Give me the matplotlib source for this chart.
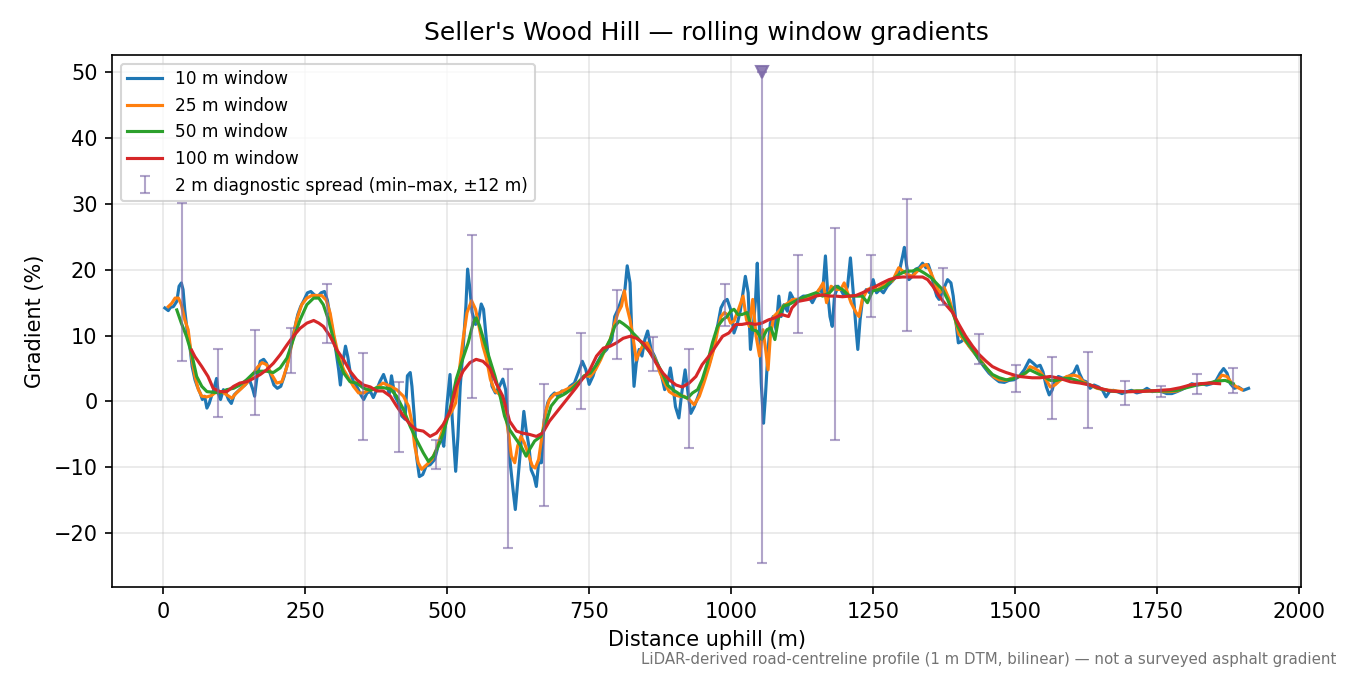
import numpy as np
import matplotlib
matplotlib.use('Agg')
import matplotlib.pyplot as plt

# ---- data (distance m, gradient %) ----
pts_10 = [(3, 14.2), (9, 13.8), (13, 14.3), (18, 14.4), (24, 15.2), (28, 17.5), (32, 18.0), (35, 17.0),
          (38, 13.9), (42, 10.9), (47, 8.4), (51, 5.3), (56, 3.3), (60, 2.3), (65, 1.3), (69, 0.3),
          (73, 0.8), (77, -1.0), (81, -0.3), (85, 0.8), (89, 1.8), (94, 3.5), (97, 1.3), (101, 0.3),
          (106, 1.8), (111, 1.2), (115, 0.3), (120, -0.3), (125, 1.0), (131, 1.5), (137, 2.0), (144, 2.5),
          (152, 3.3), (158, 1.8), (161, 0.8), (166, 4.3), (171, 6.1), (177, 6.4), (182, 5.8), (189, 4.1),
          (195, 2.5), (201, 2.0), (207, 2.3), (213, 3.8), (219, 5.8), (225, 8.4), (231, 10.9), (237, 13.2),
          (242, 14.4), (248, 15.4), (254, 16.5), (260, 16.7), (266, 16.2), (272, 15.9), (278, 16.5),
          (284, 16.7), (289, 15.4), (294, 12.9), (299, 10.4), (304, 7.8), (309, 4.8), (312, 2.5), (316, 5.8),
          (321, 8.4), (325, 6.8), (329, 4.6), (335, 3.0), (341, 2.3), (348, 1.0), (353, 0.3), (359, 1.3),
          (365, 1.5), (370, 0.6), (376, 1.8), (382, 3.1), (388, 4.1), (394, 2.6), (398, 1.1), (402, 3.9),
          (408, 0.8), (414, -0.2), (420, -2.2), (426, -2.7), (430, 3.9), (435, 4.4), (438, 2.3), (442, -2.2),
          (446, -8.3), (451, -11.4), (457, -11.1), (463, -9.8), (470, -9.6), (478, -8.8), (484, -6.8),
          (490, -5.5), (494, -6.8), (500, -0.2), (505, 4.1), (509, -2.7), (515, -10.6), (519, -5.3),
          (523, 2.3), (528, 7.9), (533, 14.5), (536, 20.1), (540, 17.1), (544, 13.5), (550, 11.7),
          (555, 12.2), (560, 14.8), (564, 14.0), (569, 9.4), (574, 5.9), (579, 2.3), (585, 1.3), (592, 2.3),
          (598, 3.4), (603, 1.8), (607, -3.2), (611, -9.3), (616, -13.4), (620, -16.4), (624, -12.4),
          (630, -6.3), (635, -1.5), (639, -4.3), (644, -6.8), (648, -10.4), (653, -11.4), (657, -12.9),
          (661, -9.3), (666, -9.3), (671, -2.7), (677, -0.2), (683, 0.8), (689, 1.3), (695, 0.8), (702, 1.6),
          (709, 1.3), (716, 2.3), (724, 2.8), (731, 4.4), (738, 6.1), (744, 4.9), (750, 2.6), (757, 3.9),
          (763, 5.7), (772, 7.1), (781, 7.9), (790, 9.4), (795, 12.9), (801, 14.0), (807, 15.5), (813, 17.0),
          (817, 20.6), (822, 18.0), (826, 7.9), (829, 2.3), (833, 5.8), (838, 7.9), (843, 6.9), (848, 9.4),
          (853, 10.7), (859, 7.9), (865, 6.9), (871, 5.6), (877, 4.1), (883, 1.8), (888, 2.8), (893, 5.1),
          (897, 2.8), (902, -0.8), (908, -2.5), (913, 1.3), (919, 4.8), (924, 1.3), (929, -1.8), (935, -0.8),
          (944, 1.3), (952, 3.6), (961, 5.6), (970, 8.4), (976, 11.4), (982, 14.2), (988, 15.2), (993, 15.5),
          (999, 14.0), (1005, 10.4), (1011, 11.9), (1016, 13.7), (1020, 16.0), (1025, 19.0), (1030, 16.5),
          (1034, 7.9), (1039, 11.4), (1043, 15.5), (1046, 21.0), (1050, 10.4), (1053, 2.8), (1057, -3.3),
          (1060, 0.3), (1065, 7.9), (1069, 11.9), (1074, 12.9), (1079, 10.9), (1084, 16.0), (1088, 12.9),
          (1093, 14.7), (1099, 13.7), (1104, 16.5), (1110, 15.5), (1118, 15.5), (1127, 16.0), (1136, 16.0),
          (1143, 15.0), (1149, 16.0), (1155, 17.0), (1161, 16.5), (1166, 22.1), (1170, 16.5), (1174, 12.9),
          (1178, 11.4), (1182, 16.0), (1188, 17.5), (1193, 17.0), (1199, 16.0), (1205, 17.5), (1210, 21.8),
          (1215, 16.5), (1220, 10.9), (1223, 7.9), (1227, 12.4), (1232, 16.0), (1238, 17.0), (1244, 16.5),
          (1250, 18.5), (1256, 16.5), (1262, 17.0), (1268, 16.5), (1275, 17.5), (1284, 18.3), (1291, 19.0),
          (1297, 20.1), (1302, 22.1), (1305, 23.4), (1309, 20.6), (1313, 18.5), (1319, 19.0), (1325, 20.1),
          (1331, 20.3), (1337, 21.0), (1343, 20.3), (1347, 20.8), (1352, 19.5), (1357, 17.5), (1362, 16.0),
          (1366, 15.5), (1371, 16.5), (1376, 17.5), (1381, 18.5), (1387, 18.0), (1391, 16.0), (1396, 11.9),
          (1400, 8.9), (1405, 9.1), (1411, 9.6), (1419, 8.4), (1428, 7.4), (1437, 6.3), (1445, 5.3),
          (1454, 4.3), (1463, 3.6), (1472, 3.0), (1481, 2.9), (1489, 3.2), (1498, 3.3), (1507, 3.8),
          (1516, 4.8), (1525, 6.3), (1532, 5.8), (1538, 5.3), (1544, 5.5), (1549, 4.5), (1555, 2.2),
          (1560, 1.0), (1565, 1.7), (1570, 3.2), (1576, 3.8), (1585, 3.5), (1594, 3.8), (1603, 4.3),
          (1609, 5.4), (1613, 4.3), (1619, 3.2), (1625, 3.0), (1632, 2.0), (1639, 2.5), (1647, 2.2),
          (1654, 1.7), (1660, 0.7), (1666, 1.5), (1673, 1.7), (1680, 1.5), (1688, 1.2), (1697, 1.5),
          (1705, 1.7), (1714, 1.3), (1723, 1.5), (1732, 2.0), (1741, 1.5), (1750, 1.6), (1758, 1.5),
          (1767, 1.2), (1776, 1.2), (1785, 1.5), (1793, 1.8), (1802, 2.2), (1811, 2.7), (1820, 2.5),
          (1829, 2.7), (1837, 2.5), (1846, 2.7), (1854, 3.2), (1861, 4.3), (1867, 5.0), (1873, 4.3),
          (1879, 2.7), (1886, 2.0), (1893, 2.2), (1902, 1.7), (1911, 2.0)]

pts_25 = [(9, 14.4), (15, 14.9), (21, 15.7), (27, 15.7), (32, 14.7), (38, 12.4), (44, 10.9), (50, 6.8),
          (56, 3.8), (62, 1.8), (68, 0.8), (77, 0.7), (85, 0.9), (94, 1.5), (103, 1.5), (112, 1.0),
          (121, 0.5), (129, 1.3), (138, 2.0), (147, 2.8), (156, 3.8), (165, 5.1), (174, 5.9), (182, 5.6),
          (191, 4.1), (200, 2.8), (209, 3.0), (218, 5.3), (227, 8.9), (235, 12.4), (244, 14.7), (253, 15.7),
          (262, 16.1), (271, 16.1), (279, 16.1), (287, 15.4), (294, 13.4), (301, 9.9), (309, 6.8), (318, 4.8),
          (327, 3.5), (335, 2.3), (344, 1.3), (353, 1.3), (362, 1.8), (370, 1.8), (376, 2.1), (387, 2.8),
          (400, 2.3), (411, 1.8), (423, 0.8), (432, -0.7), (438, -3.2), (443, -6.8), (449, -9.3),
          (455, -10.3), (464, -9.6), (473, -8.8), (481, -7.3), (490, -4.8), (499, -2.7), (508, -1.5),
          (515, -0.2), (521, 4.4), (528, 9.4), (535, 13.5), (543, 15.3), (550, 14.0), (557, 11.0), (563, 8.4),
          (569, 6.6), (576, 3.4), (584, 1.6), (592, 1.1), (601, -0.5), (607, -4.3), (613, -8.3), (619, -9.3),
          (624, -6.8), (630, -5.3), (636, -6.3), (642, -7.8), (650, -9.8), (655, -10.1), (661, -8.8),
          (667, -5.3), (673, -1.7), (680, 0.3), (689, 1.1), (697, 1.3), (709, 1.8), (721, 2.3), (733, 3.1),
          (744, 3.9), (752, 3.8), (761, 4.8), (770, 6.3), (778, 7.9), (787, 9.4), (795, 11.9), (801, 13.5),
          (807, 14.5), (812, 16.8), (816, 14.5), (822, 12.4), (827, 9.9), (833, 6.3), (838, 7.4), (845, 8.6),
          (852, 8.9), (859, 7.6), (867, 6.3), (875, 4.3), (883, 2.8), (891, 1.5), (900, 1.0), (909, 0.8),
          (917, 0.8), (926, 0.3), (935, -0.5), (944, 0.8), (952, 2.8), (961, 5.3), (970, 8.1), (976, 10.7),
          (982, 12.9), (988, 13.5), (993, 13.2), (999, 11.9), (1005, 12.2), (1013, 14.0), (1021, 16.0),
          (1027, 12.4), (1032, 11.4), (1038, 15.5), (1044, 9.9), (1050, 6.9), (1056, 10.9), (1060, 8.4),
          (1065, 4.8), (1069, 9.9), (1075, 12.9), (1084, 13.7), (1092, 14.5), (1101, 15.0), (1109, 15.5),
          (1118, 15.5), (1130, 15.6), (1137, 15.7), (1146, 16.0), (1155, 17.0), (1162, 18.0), (1168, 15.0),
          (1176, 17.5), (1184, 17.0), (1193, 17.0), (1199, 18.0), (1205, 16.5), (1211, 15.0), (1220, 13.5),
          (1225, 12.9), (1231, 15.5), (1240, 17.0), (1249, 17.3), (1258, 17.0), (1266, 17.5), (1275, 18.0),
          (1284, 18.3), (1295, 20.3), (1302, 19.8), (1310, 19.3), (1319, 19.0), (1328, 19.8), (1337, 20.6),
          (1344, 20.8), (1352, 19.5), (1359, 18.0), (1367, 16.5), (1375, 17.3), (1384, 15.5), (1393, 12.9),
          (1401, 10.2), (1410, 9.4), (1419, 8.4), (1428, 7.4), (1437, 6.6), (1445, 5.6), (1454, 4.6),
          (1463, 3.7), (1472, 3.3), (1484, 3.2), (1495, 3.6), (1507, 3.8), (1519, 4.3), (1526, 5.3),
          (1535, 5.0), (1544, 4.5), (1553, 3.5), (1562, 2.2), (1570, 2.5), (1579, 3.2), (1591, 3.8),
          (1603, 4.0), (1612, 3.8), (1620, 3.0), (1632, 2.5), (1644, 2.0), (1656, 1.8), (1667, 1.7),
          (1679, 1.6), (1691, 1.5), (1703, 1.5), (1714, 1.6), (1726, 1.6), (1738, 1.6), (1750, 1.6),
          (1761, 1.5), (1773, 1.5), (1785, 1.6), (1796, 2.0), (1808, 2.5), (1820, 2.6), (1832, 2.7),
          (1843, 2.8), (1855, 3.0), (1864, 4.0), (1873, 3.8), (1882, 2.7), (1890, 2.2), (1899, 1.8)]

pts_50 = [(24, 13.9), (32, 11.9), (41, 9.9), (50, 7.3), (59, 3.8), (68, 2.3), (77, 1.5), (88, 1.4),
          (100, 1.3), (112, 1.8), (124, 2.0), (135, 2.5), (147, 3.3), (159, 4.3), (171, 4.6), (182, 4.6),
          (194, 4.4), (206, 5.1), (218, 6.6), (229, 9.4), (241, 12.4), (253, 14.7), (265, 15.7), (274, 15.7),
          (282, 14.7), (291, 12.4), (300, 9.4), (309, 6.3), (318, 4.3), (329, 3.0), (341, 2.8), (353, 2.0),
          (365, 1.7), (376, 2.1), (387, 2.1), (400, 1.9), (411, 0.8), (423, -1.2), (435, -3.8), (446, -5.8),
          (458, -7.8), (467, -9.1), (476, -8.3), (484, -6.8), (493, -4.8), (505, -1.2), (516, 3.4),
          (528, 6.6), (537, 8.9), (546, 12.0), (551, 12.7), (557, 11.5), (566, 8.9), (575, 6.4), (584, 3.9),
          (592, 1.3), (601, -2.2), (610, -4.3), (622, -5.8), (630, -6.8), (639, -8.3), (645, -7.3),
          (654, -6.0), (665, -5.3), (674, -3.2), (683, -0.7), (695, 0.6), (706, 1.1), (718, 1.8), (730, 2.8),
          (741, 3.9), (752, 4.3), (763, 5.6), (775, 7.4), (787, 9.4), (795, 11.4), (803, 12.2), (810, 11.8),
          (819, 11.2), (827, 10.4), (836, 9.6), (845, 8.6), (853, 7.9), (862, 6.9), (871, 5.6), (880, 4.1),
          (888, 2.5), (897, 1.8), (906, 1.3), (914, 0.8), (923, 0.5), (932, 1.3), (941, 1.8), (949, 3.3),
          (958, 5.8), (967, 8.9), (976, 11.4), (985, 12.4), (993, 12.9), (999, 13.7), (1005, 14.0),
          (1012, 13.2), (1019, 13.2), (1028, 13.5), (1037, 10.9), (1045, 10.7), (1054, 9.4), (1063, 10.9),
          (1070, 11.2), (1077, 9.4), (1084, 12.9), (1092, 14.5), (1101, 14.7), (1112, 15.2), (1124, 15.7),
          (1136, 16.1), (1149, 16.5), (1161, 16.0), (1173, 16.5), (1184, 17.5), (1196, 17.0), (1208, 16.0),
          (1220, 16.0), (1231, 16.0), (1240, 15.0), (1249, 16.8), (1261, 17.0), (1272, 17.5), (1284, 18.5),
          (1296, 19.3), (1308, 19.8), (1319, 19.8), (1328, 20.1), (1340, 19.5), (1352, 18.8), (1363, 17.8),
          (1372, 17.0), (1381, 15.5), (1390, 13.5), (1399, 11.4), (1408, 9.9), (1416, 8.9), (1425, 7.9),
          (1437, 6.3), (1449, 5.1), (1460, 4.1), (1472, 3.6), (1484, 3.3), (1495, 3.4), (1507, 3.8),
          (1519, 4.4), (1526, 4.8), (1538, 4.3), (1550, 3.8), (1562, 3.2), (1573, 3.2), (1585, 3.5),
          (1597, 3.5), (1609, 3.2), (1620, 2.8), (1632, 2.5), (1644, 2.1), (1656, 1.8), (1667, 1.6),
          (1679, 1.5), (1697, 1.5), (1714, 1.6), (1732, 1.6), (1750, 1.6), (1767, 1.6), (1785, 1.7),
          (1802, 2.1), (1820, 2.5), (1837, 2.7), (1855, 3.1), (1870, 3.2), (1884, 2.7)]

pts_100 = [(50, 7.8), (56, 6.8), (68, 5.3), (79, 3.8), (88, 2.0), (100, 1.5), (112, 1.5), (124, 2.3),
           (135, 2.8), (147, 3.0), (159, 3.5), (171, 4.1), (182, 4.8), (194, 5.8), (206, 7.1), (218, 8.6),
           (229, 9.9), (241, 11.1), (253, 11.9), (265, 12.3), (274, 11.9), (282, 11.4), (294, 9.9), (306, 7.8),
           (318, 6.3), (329, 4.6), (341, 3.3), (353, 2.5), (365, 2.2), (376, 1.6), (387, 1.6), (400, 0.8),
           (411, -0.7), (423, -2.2), (435, -3.5), (446, -4.3), (458, -4.5), (470, -5.3), (481, -4.8),
           (493, -3.5), (505, -1.5), (516, 2.3), (528, 4.6), (540, 5.9), (551, 6.4), (563, 6.1), (575, 5.1),
           (586, 2.8), (598, 0.8), (610, -3.0), (622, -4.5), (633, -4.8), (645, -5.0), (657, -5.3),
           (668, -4.8), (680, -3.0), (692, -1.7), (703, -0.5), (715, 0.8), (727, 2.1), (738, 3.4), (750, 4.6),
           (763, 6.9), (775, 8.1), (787, 8.4), (798, 8.9), (810, 9.6), (822, 9.9), (833, 9.6), (845, 8.9),
           (856, 7.6), (868, 5.8), (880, 4.3), (891, 3.3), (903, 2.5), (914, 2.2), (926, 2.8), (938, 3.8),
           (949, 5.6), (961, 6.9), (973, 8.4), (985, 9.9), (996, 10.4), (1008, 11.7), (1019, 11.7),
           (1031, 11.9), (1042, 11.7), (1054, 11.9), (1066, 12.4), (1077, 12.7), (1089, 13.2), (1101, 12.9),
           (1107, 14.2), (1118, 15.2), (1136, 15.5), (1149, 16.0), (1161, 16.2), (1173, 16.0), (1184, 16.0),
           (1196, 15.9), (1208, 16.0), (1220, 16.1), (1231, 16.5), (1243, 17.0), (1255, 17.5), (1266, 18.0),
           (1278, 18.5), (1290, 18.8), (1302, 18.9), (1313, 18.9), (1325, 18.9), (1337, 18.9), (1346, 18.5),
           (1355, 17.5), (1366, 16.0), (1378, 14.7), (1390, 13.5), (1401, 11.7), (1413, 9.9), (1425, 8.4),
           (1437, 7.1), (1449, 6.1), (1460, 5.3), (1472, 4.8), (1484, 4.4), (1495, 4.1), (1507, 3.8),
           (1519, 3.7), (1530, 3.6), (1544, 3.6), (1562, 3.8), (1579, 3.5), (1597, 3.0), (1614, 2.8),
           (1632, 2.5), (1650, 2.0), (1667, 1.6), (1685, 1.5), (1703, 1.5), (1720, 1.5), (1738, 1.6),
           (1755, 1.7), (1773, 1.8), (1791, 2.1), (1808, 2.5), (1826, 2.7), (1843, 2.8), (1860, 2.7)]

# 2 m diagnostic spread: position, min, max (max clipped at CLIP)
spread_x = [33, 97, 161, 225, 289, 352, 416, 480, 544, 607, 671, 735, 799, 863, 926,
            990, 1054, 1118, 1182, 1246, 1309, 1373, 1437, 1501, 1565, 1629, 1693, 1756, 1820, 1884]
spread_lo = [6.2, -2.3, -2.0, 4.3, 8.9, -5.9, -7.6, -10.2, 0.5, -22.2, -15.9, -1.2, 6.5, 4.6, -7.0,
             11.4, -24.5, 10.4, -5.8, 12.9, 10.7, 14.6, 5.7, 1.5, -2.7, -4.0, -0.5, 0.7, 1.1, 1.3]
spread_hi = [30.2, 8.0, 10.8, 11.2, 17.9, 7.4, 2.9, -5.8, 25.3, 5.0, 2.6, 10.4, 17.0, 9.8, 8.0,
             17.8, 50.0, 22.2, 26.3, 22.3, 30.7, 20.2, 10.2, 5.6, 6.8, 7.5, 3.1, 2.3, 4.2, 5.1]
CLIP = 50

series = [(pts_10, '10 m window', 'tab:blue'),
          (pts_25, '25 m window', 'tab:orange'),
          (pts_50, '50 m window', 'tab:green'),
          (pts_100, '100 m window', 'tab:red')]

fig, ax = plt.subplots(figsize=(9, 4.5), dpi=150)

for pts, lab, col in series:
    arr = np.array(pts)
    ax.plot(arr[:, 0], arr[:, 1], color=col, lw=1.5, label=lab)

sx = np.array(spread_x)
lo = np.array(spread_lo)
hi = np.array(spread_hi)
mid = (lo + hi) / 2
ax.errorbar(sx, mid, yerr=[mid - lo, hi - mid], fmt='none', ecolor='#7d6aa8', alpha=0.6,
            elinewidth=1, capsize=2.5, label='2 m diagnostic spread (min–max, ±12 m)')
clipped = hi >= CLIP
ax.plot(sx[clipped], hi[clipped], 'v', color='#7d6aa8', ms=6, alpha=0.85)

ax.set_xlim(-90, 2004)
ax.set_ylim(-28.2, 52.6)
ax.set_xlabel('Distance uphill (m)')
ax.set_ylabel('Gradient (%)')
ax.set_title("Seller's Wood Hill — rolling window gradients", pad=7)
ax.grid(alpha=0.3)
ax.legend(loc='upper left', fontsize=8.2)

fig.text(0.99, 0.012, 'LiDAR-derived road-centreline profile (1 m DTM, bilinear) — not a surveyed asphalt gradient',
         ha='right', va='bottom', fontsize=7.2, color='0.45')

plt.subplots_adjust(left=0.083, right=0.964, top=0.9185, bottom=0.130)
plt.savefig('out.png', dpi=150)
